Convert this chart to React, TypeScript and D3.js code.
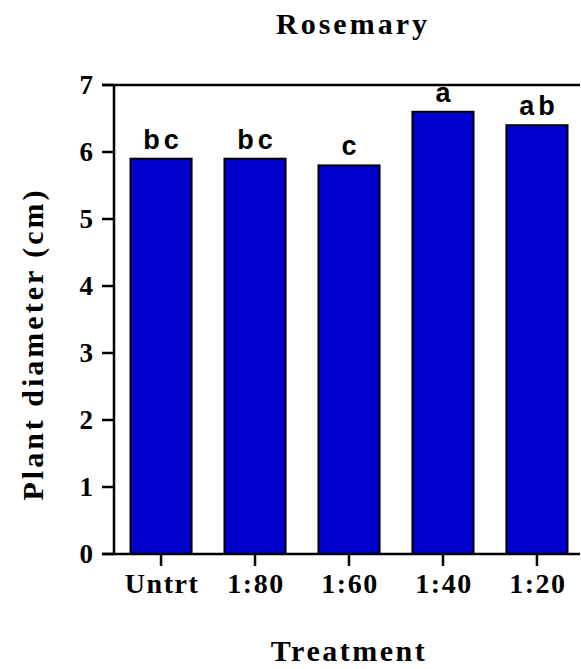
import React from "react";
import * as d3 from "d3";

const categories = ["Untrt", "1:80", "1:60", "1:40", "1:20"];
const values = [5.9, 5.9, 5.8, 6.6, 6.4];
const letters = ["bc", "bc", "c", "a", "ab"];
const yTicks = [0, 1, 2, 3, 4, 5, 6, 7];

const W = 581;
const H = 669;
const left = 114;
const right = 584;
const top = 85;
const bottom = 554;

export default function App() {
  const x = d3.scaleBand<string>().domain(categories).range([left, right]).paddingInner(0.35).paddingOuter(0.1755);
  const y = d3.scaleLinear().domain([0, 7]).range([bottom, top]);
  const serif = "'Liberation Serif', 'Times New Roman', serif";
  const sans = "'Liberation Sans', Arial, sans-serif";
  return (
    <svg width={W} height={H} style={{ position: "absolute", left: 0, top: 0, background: "#fff" }}>
      <rect x={0} y={0} width={W} height={H} fill="#fff" />
      {categories.map((c, i) => (
        <rect key={c} x={x(c)} y={y(values[i])} width={x.bandwidth()} height={y(0) - y(values[i])}
          fill="#0000CC" stroke="#000" strokeWidth={2} />
      ))}
      {categories.map((c, i) => (
        <text key={"l" + c} x={(x(c) as number) + x.bandwidth() / 2 + 2} y={y(values[i]) - 10}
          textAnchor="middle" fontFamily={sans} fontWeight="bold" fontSize={27} letterSpacing={4}>
          {letters[i]}
        </text>
      ))}
      <line x1={left} x2={left} y1={top} y2={bottom} stroke="#000" strokeWidth={2.5} />
      <line x1={102} x2={580} y1={bottom} y2={bottom} stroke="#000" strokeWidth={2.5} />
      <line x1={102} x2={580} y1={top} y2={top} stroke="#000" strokeWidth={2.5} />
      {yTicks.map((t) => (
        <g key={"y" + t}>
          <line x1={102} x2={left} y1={y(t)} y2={y(t)} stroke="#000" strokeWidth={2.5} />
          <text x={93} y={y(t)} dy="0.34em" textAnchor="end" fontFamily={serif} fontWeight="bold" fontSize={27}>
            {t}
          </text>
        </g>
      ))}
      {categories.map((c) => {
        const cx = (x(c) as number) + x.bandwidth() / 2;
        return (
          <g key={"x" + c}>
            <line x1={cx} x2={cx} y1={bottom} y2={bottom + 12} stroke="#000" strokeWidth={2.5} />
            <text x={cx + 1} y={593} textAnchor="middle" fontFamily={serif} fontWeight="bold" fontSize={28} letterSpacing={1.5}>
              {c}
            </text>
          </g>
        );
      })}
      <text x={353} y={34} textAnchor="middle" fontFamily={serif} fontWeight="bold" fontSize={30} letterSpacing={3}>
        Rosemary
      </text>
      <text x={349} y={661} textAnchor="middle" fontFamily={serif} fontWeight="bold" fontSize={30} letterSpacing={2.5}>
        Treatment
      </text>
      <text transform="translate(43,344) rotate(-90)" textAnchor="middle" fontFamily={serif} fontWeight="bold"
        fontSize={30} letterSpacing={3}>
        Plant diameter (cm)
      </text>
    </svg>
  );
}
